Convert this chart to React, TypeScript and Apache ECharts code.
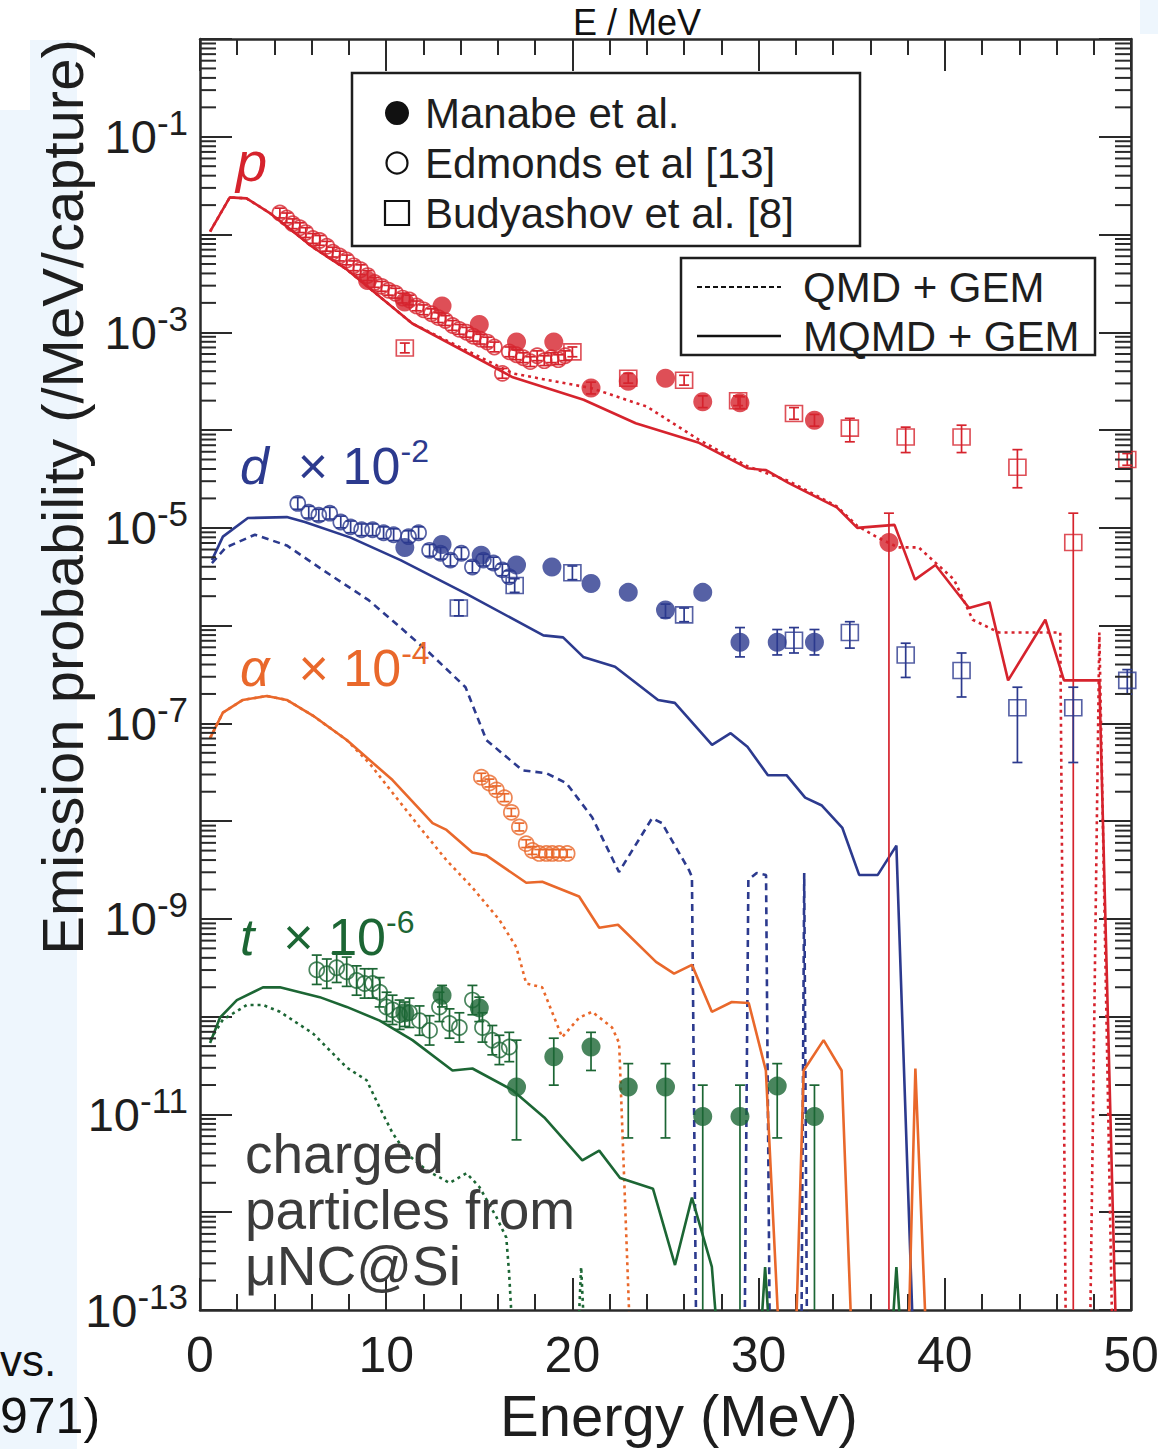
import React, { useEffect, useRef } from "react";
import * as echarts from "echarts";

const FONT = "'Liberation Sans', Arial, Helvetica, sans-serif";
const RED = "#d6232d";
const BLUE = "#2c3a8e";
const ORANGE = "#e9682b";
const GREEN = "#1c6634";
const INK = "#1e1e1e";
const AXIS = "#2a2a2a";

// values are log10(emission probability /MeV/capture); ZERO = model gives no yield (off the axis floor)
const ZERO = -13.3;

// axis
const X_MIN = 0;
const X_MAX = 50;
const Y_MIN_EXP = -13;
const Y_MAX_EXP = 0;
const yMinorMultipliers = [2, 3, 4, 5, 6, 7, 8, 9];
const yDecades = [-13, -12, -11, -10, -9, -8, -7, -6, -5, -4, -3, -2, -1];

// ---- model curves [E (MeV), log10 P] ----
const pMQMD = [[0.54,-1.97],[1.6,-1.62],[2.5,-1.63],[3.75,-1.78],[6.06,-2.13],[7.9,-2.36],[11.4,-2.91],[16.8,-3.46],[20.6,-3.69],[23.4,-3.93],[26.8,-4.13],[29.4,-4.39],[30.4,-4.41],[31.6,-4.54],[34.2,-4.79],[35.3,-5.0],[37.3,-4.97],[38.4,-5.53],[39.5,-5.38],[41.3,-5.82],[42.4,-5.76],[43.4,-6.56],[45.4,-5.94],[46.4,-6.56],[48.3,-6.56],[49.2,ZERO]];
const pQMD = [[0.54,-1.97],[1.6,-1.62],[2.5,-1.63],[3.75,-1.78],[6.06,-2.13],[7.9,-2.36],[11.4,-2.91],[16.8,-3.42],[19.0,-3.5],[21.0,-3.57],[24.0,-3.76],[26.8,-4.1],[29.4,-4.37],[31.6,-4.52],[34.2,-4.78],[35.3,-4.98],[36.4,-5.1],[37.5,-5.2],[38.6,-5.2],[40.5,-5.53],[41.5,-5.94],[42.9,-6.07],[46.2,-6.07],[46.5,ZERO],[47.8,ZERO],[48.3,-6.07],[49.0,ZERO]];
const dMQMD = [[0.64,-5.33],[1.23,-5.09],[2.57,-4.9],[4.66,-4.89],[5.63,-4.94],[8.09,-5.1],[10.77,-5.33],[14.26,-5.67],[18.44,-6.1],[19.5,-6.12],[20.58,-6.32],[22.29,-6.42],[24.6,-6.76],[25.5,-6.79],[27.5,-7.22],[28.5,-7.1],[29.4,-7.24],[30.5,-7.53],[31.5,-7.53],[32.5,-7.76],[33.4,-7.84],[34.5,-8.07],[35.4,-8.55],[36.4,-8.55],[37.4,-8.25],[38.3,ZERO]];
const dQMD = [[0.64,-5.36],[1.39,-5.2],[2.95,-5.07],[4.66,-5.18],[6.59,-5.43],[9.06,-5.74],[10.77,-6.02],[12.33,-6.28],[14.26,-6.63],[15.38,-7.17],[17.31,-7.48],[18.6,-7.51],[19.67,-7.61],[21.06,-7.96],[22.5,-8.52],[24.28,-7.97],[24.81,-8.02],[26.26,-8.5],[26.42,-8.57],[26.65,ZERO],[29.25,ZERO],[29.45,-8.6],[29.9,-8.53],[30.4,-8.55],[30.6,ZERO],[32.3,ZERO],[32.45,-8.53],[32.6,ZERO]];
const aMQMD = [[0.54,-7.15],[1.23,-6.89],[2.3,-6.76],[3.59,-6.72],[4.66,-6.76],[6.06,-6.92],[7.88,-7.17],[10.34,-7.58],[12.49,-8.02],[13.24,-8.09],[14.63,-8.32],[15.38,-8.35],[17.52,-8.63],[18.38,-8.62],[20.36,-8.77],[21.44,-9.09],[22.45,-9.06],[24.49,-9.44],[25.46,-9.56],[26.42,-9.47],[27.49,-9.95],[28.56,-9.85],[29.47,-9.86],[30.39,-10.55],[31.1,ZERO],[32.0,ZERO],[32.42,-10.55],[33.49,-10.24],[34.46,-10.55],[35.0,ZERO],[38.05,ZERO],[38.42,-10.53],[39.0,ZERO]];
const aQMD = [[0.54,-7.15],[1.23,-6.89],[2.3,-6.76],[3.59,-6.72],[4.66,-6.76],[6.06,-6.92],[7.88,-7.17],[9.11,-7.41],[10.34,-7.71],[11.79,-8.06],[13.24,-8.4],[14.63,-8.68],[16.08,-9.01],[16.99,-9.29],[17.52,-9.66],[18.38,-9.7],[19.45,-10.21],[20.36,-10.01],[21.06,-9.95],[22.13,-10.11],[22.51,-10.27],[23.1,ZERO]];
const tMQMD = [[0.54,-10.27],[1.07,-10.01],[1.98,-9.83],[3.38,-9.7],[4.29,-9.7],[6.43,-9.8],[7.88,-9.9],[9.65,-10.04],[11.41,-10.24],[13.56,-10.55],[14.63,-10.53],[16.77,-10.75],[18.49,-11.03],[20.53,-11.47],[21.44,-11.37],[22.56,-11.65],[24.33,-11.76],[25.51,-12.54],[26.42,-11.85],[27.49,-12.56],[27.8,ZERO],[30.1,ZERO],[30.35,-12.56],[30.6,ZERO],[37.15,ZERO],[37.4,-12.56],[37.65,ZERO]];
const tQMD = [[0.54,-10.24],[1.23,-10.03],[2.52,-9.88],[3.38,-9.88],[4.29,-9.95],[6.06,-10.17],[7.88,-10.52],[8.95,-10.65],[9.65,-10.93],[10.34,-11.19],[11.09,-11.4],[12.17,-11.57],[13.4,-11.7],[14.31,-11.6],[15.0,-11.74],[15.92,-12.05],[16.45,-12.26],[16.6,-12.62],[16.8,ZERO],[20.3,ZERO],[20.47,-12.56],[20.65,ZERO]];

// ---- measurements [E, log10 P]; error bars [E, low, high] ----
const pManabe = [[9.0,-2.47],[11.0,-2.69],[13.0,-2.73],[15.0,-2.92],[17.0,-3.1],[19.0,-3.1],[21.0,-3.57],[23.0,-3.5],[25.0,-3.47],[27.0,-3.71],[29.0,-3.72],[33.0,-3.9],[37.0,-5.15]];
const pManabeErr = [[21.0,-3.63,-3.51],[27.0,-3.77,-3.65],[29.0,-3.78,-3.66],[33.0,-3.96,-3.84],[37.0,ZERO,-4.85]];
const pEdmonds = [[4.29,-1.78],[4.66,-1.83],[4.98,-1.89],[5.36,-1.93],[5.68,-1.98],[6.06,-2.04],[6.43,-2.06],[6.81,-2.12],[7.13,-2.18],[7.5,-2.22],[7.88,-2.26],[8.25,-2.32],[8.63,-2.36],[9.0,-2.42],[9.38,-2.49],[9.75,-2.53],[10.13,-2.57],[10.5,-2.6],[10.88,-2.65],[11.25,-2.67],[11.63,-2.73],[12.0,-2.77],[12.43,-2.81],[12.81,-2.85],[13.18,-2.88],[13.56,-2.93],[13.93,-2.97],[14.31,-3.0],[14.68,-3.04],[15.06,-3.07],[15.43,-3.1],[15.81,-3.15],[16.24,-3.42],[16.61,-3.2],[16.99,-3.23],[17.36,-3.26],[17.74,-3.3],[18.11,-3.24],[18.49,-3.29],[18.86,-3.26],[19.24,-3.28],[19.61,-3.24]];
const pEdmondsErrHalf = 0.05;
const pBudyashov = [[11.0,-3.16],[20.0,-3.2],[23.0,-3.47],[26.0,-3.49],[28.9,-3.7],[31.9,-3.83],[34.9,-3.98],[37.9,-4.07],[40.9,-4.07],[43.9,-4.38],[46.9,-5.15],[49.8,-4.3]];
const pBudyashovErr = [[11.0,-3.21,-3.11],[20.0,-3.25,-3.15],[23.0,-3.52,-3.42],[26.0,-3.54,-3.44],[28.9,-3.75,-3.65],[31.9,-3.89,-3.77],[34.9,-4.12,-3.88],[37.9,-4.23,-3.97],[40.9,-4.23,-3.95],[43.9,-4.59,-4.2],[46.9,ZERO,-4.85],[49.8,-4.36,-4.24]];

const dManabe = [[11.0,-5.2],[13.0,-5.17],[15.1,-5.28],[17.0,-5.38],[18.9,-5.4],[21.0,-5.57],[23.0,-5.66],[25.0,-5.84],[27.0,-5.66],[29.0,-6.17],[31.0,-6.17],[33.0,-6.17]];
const dManabeErr = [[25.0,-5.92,-5.78],[29.0,-6.32,-6.02],[31.0,-6.3,-6.04],[33.0,-6.3,-6.04]];
const dEdmonds = [[5.25,-4.75],[5.84,-4.84],[6.38,-4.87],[6.97,-4.85],[7.56,-4.94],[8.09,-4.99],[8.68,-5.02],[9.27,-5.02],[9.86,-5.05],[10.4,-5.07],[11.2,-5.09],[11.74,-5.05],[12.33,-5.23],[12.92,-5.26],[13.45,-5.33],[14.04,-5.26],[14.63,-5.4],[15.22,-5.33],[15.76,-5.36],[16.24,-5.43],[16.61,-5.5]];
const dEdmondsErrHalf = 0.06;
const dBudyashov = [[13.9,-5.82],[16.9,-5.59],[20.0,-5.46],[26.0,-5.89],[31.9,-6.15],[34.9,-6.07],[37.9,-6.3],[40.9,-6.46],[43.9,-6.84],[46.9,-6.84],[49.8,-6.56]];
const dBudyashovErr = [[13.9,-5.9,-5.74],[16.9,-5.66,-5.52],[20.0,-5.53,-5.39],[26.0,-5.96,-5.82],[31.9,-6.28,-6.02],[34.9,-6.23,-5.96],[37.9,-6.53,-6.18],[40.9,-6.73,-6.28],[43.9,-7.4,-6.63],[46.9,-7.4,-6.63],[49.8,-6.7,-6.45]];

const aEdmonds = [[15.11,-7.55],[15.54,-7.61],[15.92,-7.68],[16.35,-7.76],[16.72,-7.91],[17.15,-8.06],[17.52,-8.23],[17.85,-8.3],[18.22,-8.33],[18.6,-8.33],[18.92,-8.33],[19.29,-8.33],[19.72,-8.33]];
const aEdmondsErrHalf = 0.04;

const tManabe = [[11.0,-9.96],[13.0,-9.78],[15.0,-9.91],[17.0,-10.72],[19.0,-10.41],[21.0,-10.31],[23.0,-10.72],[25.0,-10.72],[27.0,-11.02],[29.0,-11.02],[31.0,-10.71],[33.0,-11.02]];
const tManabeErr = [[11.0,-10.1,-9.85],[13.0,-9.9,-9.68],[15.0,-10.05,-9.8],[17.0,-11.26,-10.24],[19.0,-10.7,-10.22],[21.0,-10.55,-10.16],[23.0,-11.24,-10.48],[25.0,-11.24,-10.48],[27.0,ZERO,-10.7],[29.0,ZERO,-10.7],[31.0,-11.24,-10.48],[33.0,ZERO,-10.7]];
const tEdmonds = [[6.27,-9.52],[6.81,-9.56],[7.34,-9.5],[7.88,-9.54],[8.41,-9.63],[8.84,-9.66],[9.27,-9.66],[9.65,-9.75],[10.02,-9.9],[10.34,-9.93],[10.72,-9.98],[11.25,-9.96],[11.79,-10.04],[12.33,-10.14],[12.86,-9.9],[13.4,-10.07],[13.93,-10.11],[14.63,-9.83],[15.17,-10.11],[15.7,-10.24],[16.08,-10.34],[16.61,-10.31]];
const tEdmondsErrHalf = 0.15;

function lineS(name: string, data: number[][], color: string, dash: any) {
  return {
    type: "line", name, data, showSymbol: false, symbol: "none", clip: true, silent: true, z: 3,
    lineStyle: { color, width: 2.6, type: dash },
  };
}
function filledS(name: string, data: number[][], color: string) {
  return { type: "scatter", name, data, symbol: "circle", symbolSize: 19, silent: true, z: 7, itemStyle: { color } };
}
function openCircleS(name: string, data: number[][], color: string) {
  return {
    type: "scatter", name, data, symbol: "circle", symbolSize: 15, silent: true, z: 6,
    itemStyle: { color: "rgba(255,255,255,0)", borderColor: color, borderWidth: 1.7 },
  };
}
function openSquareS(name: string, data: number[][], color: string) {
  return {
    type: "scatter", name, data, symbol: "rect", symbolSize: [17, 16], silent: true, z: 6,
    itemStyle: { color: "rgba(255,255,255,0)", borderColor: color, borderWidth: 1.6 },
  };
}
function errS(name: string, data: number[][], color: string) {
  return {
    type: "custom", name, data, silent: true, z: 5,
    encode: { x: 0, y: [1, 2] },
    renderItem: (params: any, api: any) => {
      const E = api.value(0);
      const lo = api.value(1);
      const hi = api.value(2);
      const cs = params.coordSys;
      const top = cs.y;
      const bottom = cs.y + cs.height;
      const a = api.coord([E, hi]);
      const b = api.coord([E, lo]);
      const x = a[0];
      const style = { stroke: color, lineWidth: 1.7, fill: "none" };
      const cap = 5;
      const children: any[] = [
        { type: "line", shape: { x1: x, y1: Math.max(top, a[1]), x2: x, y2: Math.min(bottom, b[1]) }, style },
      ];
      if (a[1] >= top) children.push({ type: "line", shape: { x1: x - cap, y1: a[1], x2: x + cap, y2: a[1] }, style });
      if (b[1] <= bottom) children.push({ type: "line", shape: { x1: x - cap, y1: b[1], x2: x + cap, y2: b[1] }, style });
      return { type: "group", children };
    },
  };
}
function symErr(data: number[][], half: number) {
  return data.map((d) => [d[0], d[1] - half, d[1] + half]);
}

function buildOption() {
  const minorY: number[][] = [];
  yDecades.forEach((n) => yMinorMultipliers.forEach((k) => minorY.push([X_MIN, n + Math.log10(k)])));

  const tickSeries = {
    type: "custom", name: "minor ticks", data: minorY, silent: true, z: 10,
    encode: { x: 0, y: 1 },
    renderItem: (params: any, api: any) => {
      const v = api.value(1);
      const L = api.coord([X_MIN, v]);
      const R = api.coord([X_MAX, v]);
      const st = { stroke: AXIS, lineWidth: 2 };
      return {
        type: "group",
        children: [
          { type: "line", shape: { x1: L[0], y1: L[1], x2: L[0] + 16, y2: L[1] }, style: st },
          { type: "line", shape: { x1: R[0] - 16, y1: R[1], x2: R[0], y2: R[1] }, style: st },
        ],
      };
    },
  };

  const dotted = [3, 4];
  const dashed = [7, 5];

  const xAxisBase = {
    type: "value", min: X_MIN, max: X_MAX, interval: 10,
    axisLine: { show: true, onZero: false, lineStyle: { color: AXIS, width: 2.5 } },
    axisTick: { show: true, inside: true, length: 32, lineStyle: { color: AXIS, width: 2 } },
    minorTick: { show: true, splitNumber: 5, length: 16, lineStyle: { color: AXIS, width: 2 } },
    splitLine: { show: false },
    minorSplitLine: { show: false },
  };
  const yAxisBase = {
    type: "value", min: Y_MIN_EXP, max: Y_MAX_EXP, interval: 1,
    axisLine: { show: true, onZero: false, lineStyle: { color: AXIS, width: 2.5 } },
    axisTick: { show: true, inside: true, length: 32, lineStyle: { color: AXIS, width: 2 } },
    splitLine: { show: false },
  };

  const txt = (text: string, x: number, y: number, size: number, extra: any = {}) => ({
    type: "text", x, y, z: 60,
    style: { text, fontFamily: FONT, fontSize: size, fill: INK, verticalAlign: "middle", ...extra },
  });

  const particleLabel = (text: string, sup: string, x: number, y: number, color: string) => ({
    type: "text", x, y, z: 60,
    style: {
      text: `{i|${text}}{n|  × 10}{s|${sup}}`,
      fill: color, verticalAlign: "middle", fontFamily: FONT, fontSize: 52,
      rich: {
        i: { fontSize: 52, fontStyle: "italic", fontFamily: FONT, fill: color },
        n: { fontSize: 52, fontFamily: FONT, fill: color },
        s: { fontSize: 32, fontFamily: FONT, fill: color, padding: [0, 0, 30, 0] },
      },
    },
  });

  const graphics: any[] = [
    // slide background remnants
    { type: "rect", z: -10, shape: { x: 30, y: 40, width: 47, height: 70 }, style: { fill: "#eef6fd" } },
    { type: "rect", z: -10, shape: { x: 0, y: 110, width: 77, height: 1339 }, style: { fill: "#eef6fd" } },
    { type: "rect", z: -10, shape: { x: 1140, y: 0, width: 18, height: 34 }, style: { fill: "#eef6fd" } },
    txt("E / MeV", 637, 4, 36, { align: "center", verticalAlign: "top", fill: "#111" }),
    txt("vs.", 0, 1360, 44, { fill: "#111" }),
    txt("971)", 0, 1416, 50, { fill: "#111" }),
    // axis titles
    {
      type: "text", x: 62, y: 497, rotation: Math.PI / 2, z: 60,
      style: { text: "Emission probability (/MeV/capture)", fontFamily: FONT, fontSize: 58, fill: INK, align: "center", verticalAlign: "middle" },
    },
    txt("Energy (MeV)", 679, 1415, 58, { align: "center" }),
    // particle labels
    txt("p", 236, 161, 56, { fill: RED, fontStyle: "italic" }),
    particleLabel("d", "-2", 240, 466, BLUE),
    particleLabel("α", "-4", 240, 668, ORANGE),
    particleLabel("t", "-6", 240, 937, GREEN),
    txt("charged", 245, 1154, 55, { fill: "#3c3c3c" }),
    txt("particles from", 245, 1210, 55, { fill: "#3c3c3c" }),
    txt("μNC@Si", 245, 1266, 55, { fill: "#3c3c3c" }),
    // legend 1
    { type: "rect", z: 100, shape: { x: 352, y: 73, width: 508, height: 173 }, style: { fill: "#fff", stroke: INK, lineWidth: 2.5 } },
    { type: "circle", z: 101, shape: { cx: 397, cy: 113, r: 12 }, style: { fill: "#111" } },
    { ...txt("Manabe et al.", 425, 113, 42), z: 101 },
    { type: "circle", z: 101, shape: { cx: 397, cy: 163, r: 10.5 }, style: { fill: "none", stroke: "#111", lineWidth: 2.2 } },
    { ...txt("Edmonds et al [13]", 425, 163, 42), z: 101 },
    { type: "rect", z: 101, shape: { x: 385, y: 201, width: 24, height: 24 }, style: { fill: "none", stroke: "#111", lineWidth: 2.2 } },
    { ...txt("Budyashov et al. [8]", 425, 213, 42), z: 101 },
    // legend 2
    { type: "rect", z: 100, shape: { x: 681, y: 258, width: 414, height: 97 }, style: { fill: "#fff", stroke: INK, lineWidth: 2.5 } },
    { type: "line", z: 101, shape: { x1: 697, y1: 287, x2: 781, y2: 287 }, style: { stroke: "#111", lineWidth: 2, lineDash: [5, 3] } },
    { ...txt("QMD + GEM", 803, 287, 42), z: 101 },
    { type: "line", z: 101, shape: { x1: 697, y1: 336, x2: 781, y2: 336 }, style: { stroke: "#111", lineWidth: 2.5 } },
    { ...txt("MQMD + GEM", 803, 336, 42), z: 101 },
  ];

  return {
    animation: false,
    backgroundColor: "#ffffff",
    textStyle: { fontFamily: FONT },
    grid: { left: 200, right: 27, top: 39, bottom: 139, containLabel: false, outerBoundsMode: "none", show: false },
    xAxis: [
      { ...xAxisBase, position: "bottom", axisLabel: { show: true, fontSize: 50, color: INK, margin: 20, fontFamily: FONT } },
      { ...xAxisBase, position: "top", axisLabel: { show: false } },
    ],
    yAxis: [
      {
        ...yAxisBase, position: "left",
        axisLabel: {
          show: true, margin: 12, color: INK, fontFamily: FONT,
          formatter: (v: number) => {
            const n = Math.round(v);
            return n % 2 !== 0 ? `{m|10}{s|${n}}` : "";
          },
          rich: {
            m: { fontSize: 47, fontFamily: FONT, color: INK },
            s: { fontSize: 35, fontFamily: FONT, color: INK, padding: [0, 0, 28, 0] },
          },
        },
      },
      { ...yAxisBase, position: "right", axisLabel: { show: false } },
    ],
    graphic: { elements: graphics },
    series: [
      lineS("p MQMD + GEM", pMQMD, RED, "solid"),
      lineS("p QMD + GEM", pQMD, RED, dotted),
      lineS("d MQMD + GEM", dMQMD, BLUE, "solid"),
      lineS("d QMD + GEM", dQMD, BLUE, dashed),
      lineS("α MQMD + GEM", aMQMD, ORANGE, "solid"),
      lineS("α QMD + GEM", aQMD, ORANGE, dotted),
      lineS("t MQMD + GEM", tMQMD, GREEN, "solid"),
      lineS("t QMD + GEM", tQMD, GREEN, dotted),
      errS("p Manabe err", pManabeErr, RED),
      errS("p Edmonds err", symErr(pEdmonds, pEdmondsErrHalf), RED),
      errS("p Budyashov err", pBudyashovErr, RED),
      errS("d Manabe err", dManabeErr, BLUE),
      errS("d Edmonds err", symErr(dEdmonds, dEdmondsErrHalf), BLUE),
      errS("d Budyashov err", dBudyashovErr, BLUE),
      errS("α Edmonds err", symErr(aEdmonds, aEdmondsErrHalf), ORANGE),
      errS("t Manabe err", tManabeErr, GREEN),
      errS("t Edmonds err", symErr(tEdmonds, tEdmondsErrHalf), GREEN),
      openCircleS("p Edmonds et al [13]", pEdmonds, RED),
      openSquareS("p Budyashov et al. [8]", pBudyashov, RED),
      filledS("p Manabe et al.", pManabe, RED),
      openCircleS("d Edmonds et al [13]", dEdmonds, BLUE),
      openSquareS("d Budyashov et al. [8]", dBudyashov, BLUE),
      filledS("d Manabe et al.", dManabe, BLUE),
      openCircleS("α Edmonds et al [13]", aEdmonds, ORANGE),
      openCircleS("t Edmonds et al [13]", tEdmonds, GREEN),
      filledS("t Manabe et al.", tManabe, GREEN),
      tickSeries,
    ],
  };
}

export default function App() {
  const ref = useRef<HTMLDivElement>(null);
  useEffect(() => {
    document.body.style.margin = "0";
    const chart = echarts.init(ref.current as HTMLDivElement, null, { renderer: "svg" });
    chart.setOption(buildOption() as any);
    return () => {
      chart.dispose();
    };
  }, []);
  return <div ref={ref} style={{ width: 1158, height: 1449, background: "#ffffff" }} />;
}
